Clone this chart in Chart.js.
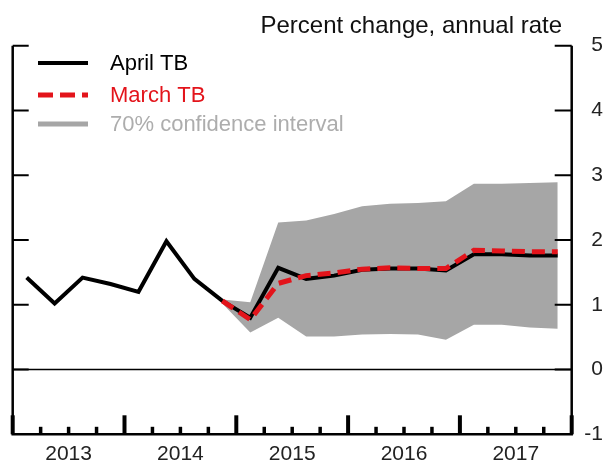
<!DOCTYPE html>
<html>
<head>
<meta charset="utf-8">
<script src="https://cdn.jsdelivr.net/npm/chart.js@4.4.1/dist/chart.umd.min.js"></script>
<style>
  html, body { margin: 0; padding: 0; background: #fff; }
  canvas { display: block; }
</style>
</head>
<body>
<canvas id="chart" width="607" height="462"></canvas>
<script>
// quarters 2013Q1 .. 2017Q4
const years = ["2013", "2014", "2015", "2016", "2017"];
const quarters = [];
years.forEach((y) => ["Q1", "Q2", "Q3", "Q4"].forEach((q) => quarters.push(y + q)));

const aprilTB = [1.42, 1.02, 1.42, 1.32, 1.20, 1.98, 1.40, 1.06,
                 0.80, 1.57, 1.40, 1.45, 1.54, 1.56, 1.56, 1.53,
                 1.78, 1.78, 1.76, 1.76];
const marchTB = [null, null, null, null, null, null, null, 1.06,
                 0.77, 1.33, 1.45, 1.49, 1.55, 1.57, 1.56, 1.56,
                 1.84, 1.83, 1.82, 1.82];
const bandUpper = [null, null, null, null, null, null, null, 1.08,
                   1.04, 2.27, 2.30, 2.40, 2.52, 2.56, 2.57, 2.60,
                   2.87, 2.87, 2.88, 2.89];
const bandLower = [null, null, null, null, null, null, null, 1.02,
                   0.57, 0.80, 0.51, 0.51, 0.54, 0.55, 0.54, 0.46,
                   0.69, 0.69, 0.65, 0.63];
const yTicks = [-1, 0, 1, 2, 3, 4, 5];
const seriesNames = ["April TB", "March TB", "70% confidence interval"];
const unitLabel = "Percent change, annual rate";

const FONT = "'Liberation Sans', Arial, sans-serif";
const BAND = "#a6a6a6";
const RED = "#e3141b";

// points sit in the middle of each quarter
const pts = (arr) => arr.map((v, i) => ({ x: i + 0.5, y: v }));

// frame, ticks, year labels, legend, unit label
const decorPlugin = {
  id: "decor",
  beforeDatasetsDraw(chart) {
    const { ctx, chartArea: a, scales: { y } } = chart;
    ctx.save();
    ctx.strokeStyle = "#000";
    ctx.lineWidth = 1.5;
    ctx.beginPath();
    ctx.moveTo(a.left, y.getPixelForValue(0));
    ctx.lineTo(a.right, y.getPixelForValue(0));
    ctx.stroke();
    ctx.restore();
  },
  afterDraw(chart) {
    const { ctx, chartArea: a, scales: { x, y } } = chart;
    ctx.save();
    ctx.strokeStyle = "#000";
    ctx.lineCap = "butt";

    // box sides + bottom
    ctx.lineWidth = 2.5;
    ctx.beginPath();
    ctx.moveTo(a.left, a.top);
    ctx.lineTo(a.left, a.bottom);
    ctx.lineTo(a.right, a.bottom);
    ctx.lineTo(a.right, a.top);
    ctx.stroke();

    // inward y ticks on both sides
    ctx.lineWidth = 2;
    yTicks.forEach((v) => {
      if (v === -1) return;
      const py = y.getPixelForValue(v);
      ctx.beginPath();
      ctx.moveTo(a.left, py);
      ctx.lineTo(a.left + 16, py);
      ctx.moveTo(a.right, py);
      ctx.lineTo(a.right - 17, py);
      ctx.stroke();
    });

    // quarterly ticks, taller at year boundaries
    for (let i = 0; i <= quarters.length; i++) {
      const px = x.getPixelForValue(i);
      const major = i % 4 === 0;
      ctx.lineWidth = major ? 4 : 3.5;
      ctx.beginPath();
      ctx.moveTo(px, a.bottom);
      ctx.lineTo(px, a.bottom - (major ? 19 : 7.5));
      ctx.stroke();
    }

    // year labels
    ctx.fillStyle = "#222";
    ctx.font = "21px " + FONT;
    ctx.textAlign = "center";
    ctx.textBaseline = "middle";
    years.forEach((yr, k) => {
      const px = x.getPixelForValue(k * 4 + 2);
      ctx.fillText(yr, px, 454);
    });

    // unit label
    ctx.font = "24px " + FONT;
    ctx.textAlign = "right";
    ctx.textBaseline = "alphabetic";
    ctx.fillStyle = "#111";
    ctx.fillText(unitLabel, 562, 33);

    // legend
    const lx0 = 38, lx1 = 88, tx = 110;
    const rows = [
      { y: 63, color: "#000", width: 4, dash: [], text: "#000" },
      { y: 95, color: RED, width: 5, dash: [15, 7], text: RED },
      { y: 124, color: BAND, width: 5, dash: [], text: "#adadad" },
    ];
    ctx.font = "22px " + FONT;
    ctx.textAlign = "left";
    ctx.textBaseline = "middle";
    rows.forEach((r, k) => {
      ctx.strokeStyle = r.color;
      ctx.lineWidth = r.width;
      ctx.setLineDash(r.dash);
      ctx.beginPath();
      ctx.moveTo(lx0, r.y);
      ctx.lineTo(lx1, r.y);
      ctx.stroke();
      ctx.setLineDash([]);
      ctx.fillStyle = r.text;
      ctx.fillText(seriesNames[k], tx, r.y + 1);
    });
    ctx.restore();
  },
};

new Chart(document.getElementById("chart"), {
  type: "line",
  data: {
    datasets: [
      {
        label: seriesNames[1],
        data: pts(marchTB),
        borderColor: RED,
        borderWidth: 5,
        borderDash: [13, 7],
        pointRadius: 0,
        tension: 0,
        fill: false,
      },
      {
        label: seriesNames[0],
        data: pts(aprilTB),
        borderColor: "#000",
        borderWidth: 4,
        pointRadius: 0,
        tension: 0,
        fill: false,
      },
      {
        label: seriesNames[2],
        data: pts(bandUpper),
        borderWidth: 0,
        borderColor: "rgba(0,0,0,0)",
        backgroundColor: BAND,
        pointRadius: 0,
        tension: 0,
        fill: "+1",
      },
      {
        label: "lower",
        data: pts(bandLower),
        borderWidth: 0,
        borderColor: "rgba(0,0,0,0)",
        pointRadius: 0,
        tension: 0,
        fill: false,
      },
    ],
  },
  options: {
    responsive: false,
    animation: false,
    devicePixelRatio: 1,
    layout: { padding: { left: 12.7, top: 45.7, bottom: 27.7, right: 4 } },
    plugins: {
      legend: { display: false },
      tooltip: { enabled: false },
    },
    scales: {
      x: {
        type: "linear",
        min: 0,
        max: quarters.length,
        display: false,
      },
      y: {
        position: "right",
        min: -1,
        max: 5,
        afterFit: (s) => { s.width = 31.3; },
        afterBuildTicks: (s) => { s.ticks = yTicks.map((v) => ({ value: v })); },
        grid: { display: false, drawTicks: false },
        border: { display: false },
        ticks: {
          padding: 9,
          crossAlign: "far",
          color: "#222",
          font: { family: FONT, size: 21 },
        },
      },
    },
  },
  plugins: [decorPlugin],
});
</script>
</body>
</html>
